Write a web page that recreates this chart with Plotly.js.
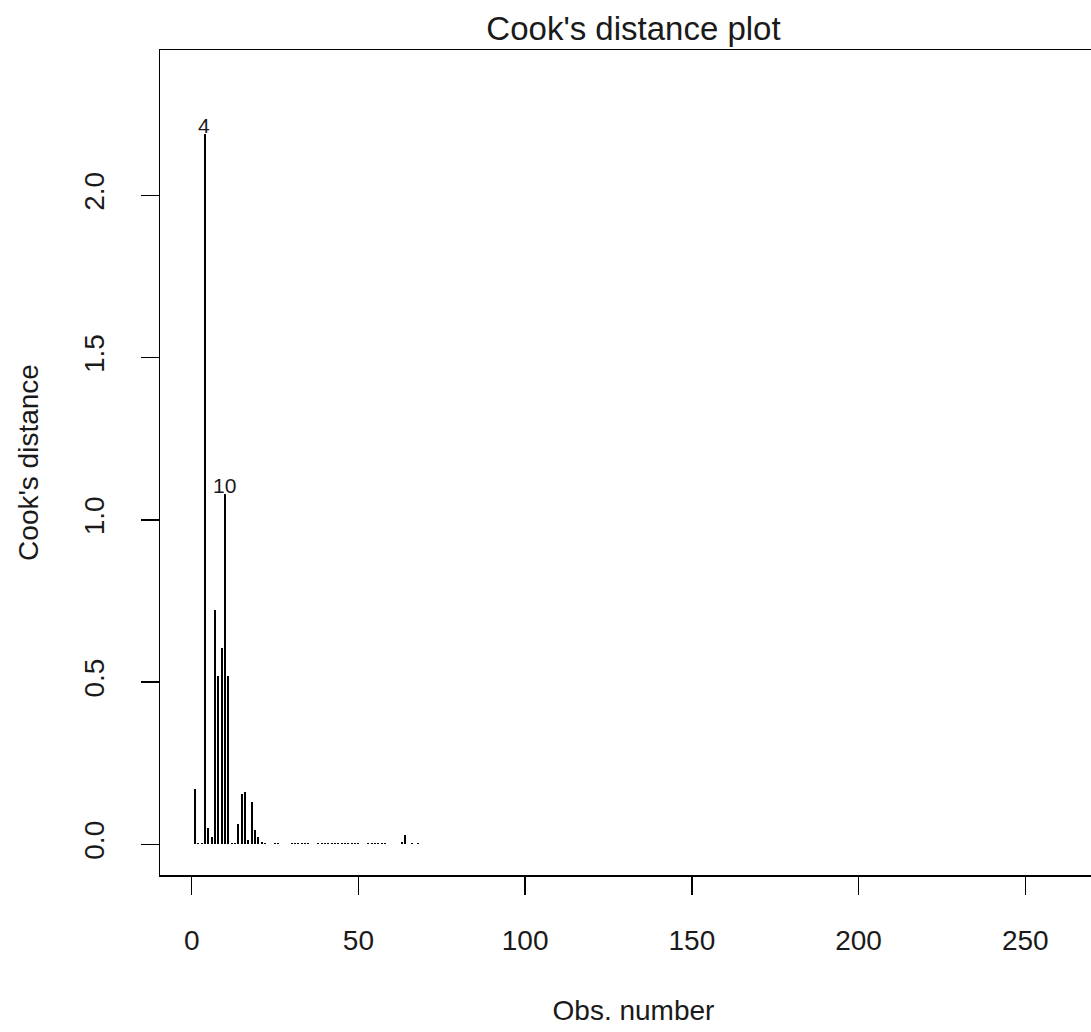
<!DOCTYPE html>
<html>
<head>
<meta charset="utf-8">
<script src="https://cdn.plot.ly/plotly-3.0.1.min.js"></script>
<style>
  html, body { margin: 0; padding: 0; overflow: hidden; background: #ffffff; }
  #chart { position: absolute; left: 0; top: 0; }
</style>
</head>
<body>
<div id="chart"></div>
<script>
// Number of observations in the fitted model (sets the x extent like R does)
const nObs = 264;

const obsNumber = [
  1, 2, 3, 4, 5, 6, 7, 8, 9, 10,
  11, 12, 13, 14, 15, 16, 17, 18, 19, 20,
  21, 22, 25, 26, 30, 31, 32, 33, 34, 35,
  38, 39, 40, 41, 42, 43, 44, 45, 46, 47,
  48, 49, 50, 53, 54, 55, 56, 57, 58, 63,
  64, 66, 68
];
const cooksDistance = [
  0.170, 0.004, 0.003, 2.190, 0.050, 0.022, 0.724, 0.518, 0.604, 1.080,
  0.518, 0.005, 0.005, 0.064, 0.157, 0.163, 0.015, 0.130, 0.044, 0.022,
  0.008, 0.003, 0.003, 0.003, 0.004, 0.003, 0.004, 0.003, 0.004, 0.003,
  0.004, 0.003, 0.004, 0.004, 0.003, 0.004, 0.003, 0.004, 0.004, 0.003,
  0.004, 0.003, 0.004, 0.003, 0.004, 0.003, 0.004, 0.003, 0.004, 0.008,
  0.030, 0.004, 0.004
];

// Observations that get an id label
const labelledObs = [4, 10];

// Axis ticks
const xTickVals = [0, 50, 100, 150, 200, 250];
const xTickText = ['0', '50', '100', '150', '200', '250'];
const yTickVals = [0, 0.5, 1.0, 1.5, 2.0];
const yTickText = ['0.0', '0.5', '1.0', '1.5', '2.0'];

const chartTitle = "Cook's distance plot";
const xTitle = 'Obs. number';
const yTitle = "Cook's distance";

// R-style axis limits
const xPad = 0.04 * (nObs - 1);
const yMax = Math.max(...cooksDistance) * 1.075;
const yPad = 0.04 * yMax;

const FONT = 'Liberation Sans, Arial, Helvetica, sans-serif';
const INK = '#1a1a1a';

const trace = {
  type: 'bar',
  x: obsNumber,
  y: cooksDistance,
  width: 0.6,
  marker: { color: '#000000', line: { width: 0 } },
  hoverinfo: 'x+y',
  showlegend: false
};

const annotations = labelledObs.map(function (o) {
  const i = obsNumber.indexOf(o);
  return {
    x: o, y: cooksDistance[i], xref: 'x', yref: 'y',
    text: String(o), showarrow: false,
    xanchor: 'center', yanchor: 'bottom', xshift: -1, yshift: -5,
    font: { family: FONT, size: 21, color: INK }
  };
});

const layout = {
  width: 1127,
  height: 1032,
  margin: { l: 160, r: 20, t: 50, b: 157, pad: 0 },
  paper_bgcolor: '#ffffff',
  plot_bgcolor: '#ffffff',
  bargap: 0,
  title: {
    text: chartTitle,
    font: { family: FONT, size: 33, color: INK },
    x: 0.5, xref: 'paper', xanchor: 'center',
    y: 1 - 28 / 1032, yref: 'container', yanchor: 'middle'
  },
  xaxis: {
    range: [1 - xPad, nObs + xPad],
    tickvals: xTickVals,
    ticktext: xTickText,
    ticks: 'outside', ticklen: 18, tickwidth: 1.5, tickcolor: '#000',
    showline: true, mirror: true, linecolor: '#000', linewidth: 1.5,
    showgrid: false, zeroline: false,
    tickfont: { family: FONT, size: 28, color: INK },
    ticklabelstandoff: 22,
    title: { text: xTitle, font: { family: FONT, size: 28, color: INK }, standoff: 45 }
  },
  yaxis: {
    range: [-yPad, yMax + yPad],
    tickvals: yTickVals,
    ticktext: yTickText,
    tickangle: -90,
    ticks: 'outside', ticklen: 18, tickwidth: 1.5, tickcolor: '#000',
    showline: true, mirror: true, linecolor: '#000', linewidth: 1.5,
    showgrid: false, zeroline: false,
    tickfont: { family: FONT, size: 28, color: INK },
    ticklabelstandoff: 25,
    title: { text: yTitle, font: { family: FONT, size: 28, color: INK }, standoff: 32 }
  },
  annotations: annotations
};

Plotly.newPlot('chart', [trace], layout, { displayModeBar: false, staticPlot: true });
</script>
</body>
</html>
